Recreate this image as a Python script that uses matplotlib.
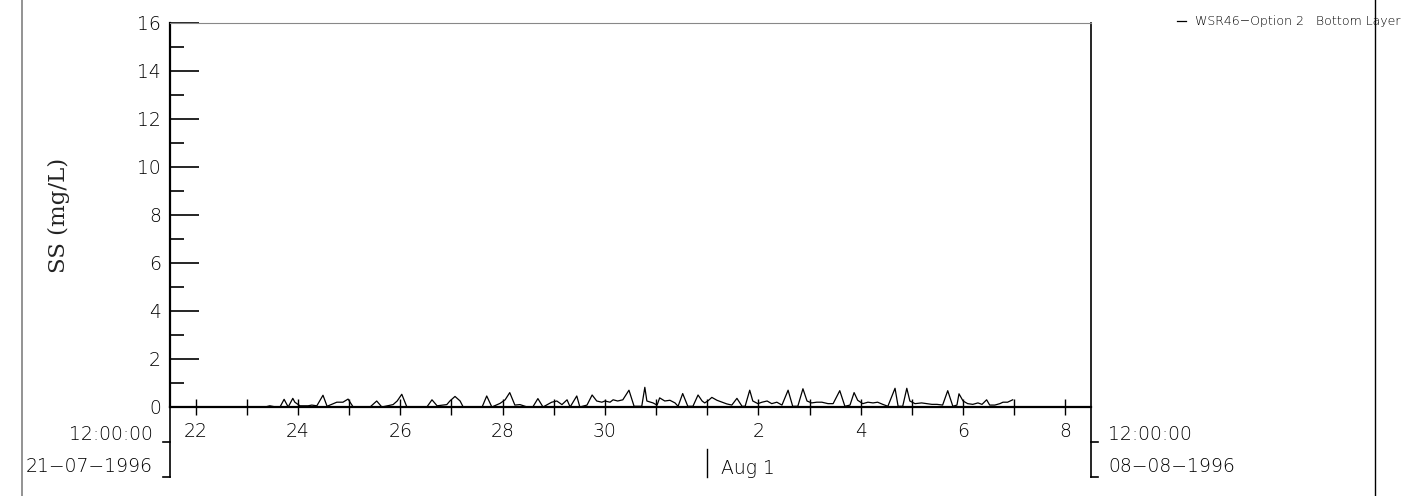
import matplotlib
matplotlib.use("Agg")
import matplotlib.pyplot as plt
import matplotlib.dates as mdates
import matplotlib.transforms as mtransforms
from matplotlib.lines import Line2D
from matplotlib.ticker import FixedLocator, FixedFormatter, MultipleLocator
from datetime import datetime, timedelta

plt.rcParams["font.family"] = ["DejaVu Sans"]
plt.rcParams["font.weight"] = "light"

# ---------------- data ----------------
start = datetime(1996, 7, 21, 12)
end = datetime(1996, 8, 8, 12)

# time offsets (days since 21-07-1996 12:00) and suspended solids (mg/L)
t_days = [1.86, 1.95, 2.07, 2.15, 2.23, 2.31, 2.40, 2.44, 2.54, 2.70, 2.77, 2.87,
          2.99, 3.07, 3.26, 3.38, 3.48, 3.58, 3.91, 4.04, 4.14, 4.36, 4.44, 4.53,
          4.63, 5.02, 5.12, 5.22, 5.41, 5.47, 5.57, 5.67, 5.73, 6.10, 6.19, 6.29,
          6.45, 6.55, 6.64, 6.74, 6.84, 6.98, 7.09, 7.19, 7.29, 7.46, 7.56, 7.66,
          7.76, 7.82, 7.95, 8.01, 8.15, 8.25, 8.34, 8.44, 8.50, 8.60, 8.66, 8.75,
          8.85, 8.97, 9.07, 9.22, 9.28, 9.32, 9.44, 9.52, 9.57, 9.67, 9.77, 9.87,
          9.93, 10.02, 10.12, 10.22, 10.32, 10.40, 10.45, 10.51, 10.59, 10.69,
          10.79, 10.88, 10.98, 11.08, 11.18, 11.24, 11.33, 11.39, 11.49, 11.57,
          11.67, 11.76, 11.86, 11.96, 12.08, 12.17, 12.27, 12.37, 12.45, 12.54,
          12.64, 12.74, 12.86, 12.96, 13.09, 13.19, 13.29, 13.37, 13.44, 13.54,
          13.64, 13.74, 13.83, 13.93, 14.03, 14.17, 14.23, 14.32, 14.40, 14.46,
          14.56, 14.69, 14.79, 14.89, 14.99, 15.10, 15.20, 15.30, 15.38, 15.42,
          15.50, 15.59, 15.69, 15.79, 15.87, 15.96, 16.02, 16.12, 16.22, 16.28,
          16.37, 16.47]
ss = [0.00, 0.05, 0.00, 0.00, 0.32, 0.00, 0.36, 0.20, 0.05, 0.05, 0.08, 0.05,
      0.49, 0.03, 0.20, 0.20, 0.33, 0.00, 0.00, 0.25, 0.00, 0.10, 0.25, 0.53,
      0.00, 0.00, 0.30, 0.05, 0.10, 0.25, 0.44, 0.25, 0.00, 0.00, 0.46, 0.00,
      0.15, 0.30, 0.60, 0.08, 0.10, 0.00, 0.00, 0.35, 0.00, 0.20, 0.25, 0.10,
      0.30, 0.00, 0.46, 0.00, 0.08, 0.50, 0.25, 0.20, 0.25, 0.20, 0.30, 0.25,
      0.30, 0.70, 0.03, 0.03, 0.82, 0.25, 0.17, 0.08, 0.38, 0.25, 0.28, 0.17,
      0.03, 0.56, 0.03, 0.03, 0.50, 0.25, 0.17, 0.25, 0.40, 0.28, 0.20, 0.13,
      0.08, 0.36, 0.03, 0.03, 0.70, 0.25, 0.14, 0.20, 0.25, 0.14, 0.20, 0.08,
      0.70, 0.03, 0.03, 0.76, 0.25, 0.17, 0.20, 0.20, 0.14, 0.14, 0.68, 0.03,
      0.08, 0.60, 0.28, 0.14, 0.20, 0.17, 0.20, 0.11, 0.03, 0.78, 0.03, 0.03,
      0.78, 0.25, 0.14, 0.17, 0.14, 0.11, 0.11, 0.08, 0.68, 0.03, 0.08, 0.55,
      0.25, 0.14, 0.11, 0.17, 0.11, 0.30, 0.08, 0.08, 0.14, 0.20, 0.20, 0.30]

series_label = "WSR46\u2212Option 2   Bottom Layer"
y_label = "SS (mg/L)"
y_min, y_max = 0, 16
y_major_step, y_minor_step = 2, 1
labelled_days = ["22", "24", "26", "28", "30", "2", "4", "6", "8"]
labelled_dates = [datetime(1996, 7, 22), datetime(1996, 7, 24), datetime(1996, 7, 26),
                  datetime(1996, 7, 28), datetime(1996, 7, 30), datetime(1996, 8, 2),
                  datetime(1996, 8, 4), datetime(1996, 8, 6), datetime(1996, 8, 8)]
month_mark = datetime(1996, 8, 1)
month_label = "Aug 1"
start_time_label, start_date_label = "12:00:00", "21\u221207\u22121996"
end_time_label, end_date_label = "12:00:00", "08\u221208\u22121996"

# ---------------- figure ----------------
W, H = 1413, 496
fig = plt.figure(figsize=(W / 100, H / 100), dpi=100)
fig.patch.set_facecolor("white")

def fx(px):
    return px / W

def fy(py):
    return 1 - py / H

FS = 13.5
L, R, T, B = 170, 1091, 23, 407
ax = fig.add_axes([fx(L), fy(B), fx(R) - fx(L), fy(T) - fy(B)])

times = [mdates.date2num(start + timedelta(days=d)) for d in t_days]
ax.plot(times, ss, color="black", lw=0.9)

ax.set_xlim(mdates.date2num(start), mdates.date2num(end))
ax.set_ylim(y_min, y_max)

# y axis
ax.yaxis.set_major_locator(MultipleLocator(y_major_step))
ax.yaxis.set_minor_locator(MultipleLocator(y_minor_step))
ax.tick_params(axis="y", which="major", direction="in", length=21, width=1.2,
               labelsize=FS, pad=6.5, right=False)
ax.tick_params(axis="y", which="minor", direction="in", length=10, width=1.2,
               right=False)
ax.set_ylabel(y_label, family="DejaVu Serif", fontsize=16.5, fontweight="normal",
              color="#222222")
ax.yaxis.set_label_coords(-(L - 59) / (R - L), 0.5)
ax.yaxis.label.set_va("center")

# x axis: a tick at every midnight, labels on even days
day = datetime(1996, 7, 22)
tick_dates = []
while day <= datetime(1996, 8, 8):
    tick_dates.append(day)
    day += timedelta(days=1)
ax.xaxis.set_major_locator(FixedLocator([mdates.date2num(d) for d in tick_dates]))
lab_nums = {round(mdates.date2num(d), 3): s for d, s in zip(labelled_dates, labelled_days)}
ax.xaxis.set_major_formatter(
    FixedFormatter([lab_nums.get(round(mdates.date2num(d), 3), "") for d in tick_dates]))
ax.tick_params(axis="x", which="major", direction="inout", length=11, width=1.0,
               labelsize=FS, pad=5.5, top=False)
ax.xaxis.set_minor_locator(FixedLocator([]))

# spines
for s in ["left", "bottom", "right"]:
    ax.spines[s].set_color("black")
ax.spines["left"].set_linewidth(1.6)
ax.spines["bottom"].set_linewidth(1.6)
ax.spines["right"].set_linewidth(1.2)
ax.spines["top"].set_linewidth(0.8)
ax.spines["top"].set_color("#888888")

# extensions of the side axes below the plot, with hooks
lines = [
    ((fx(L), fx(L)), (fy(B), fy(477))),
    ((fx(L - 7), fx(L)), (fy(442), fy(442))),
    ((fx(L - 7), fx(L)), (fy(477), fy(477))),
    ((fx(R), fx(R)), (fy(B), fy(477))),
    ((fx(R), fx(R + 7)), (fy(442), fy(442))),
    ((fx(R), fx(R + 7)), (fy(477), fy(477))),
]
for xs, ys in lines:
    fig.add_artist(Line2D(xs, ys, transform=fig.transFigure, color="black", lw=1.2))

fig.text(fx(153), fy(434), start_time_label, ha="right", va="center", fontsize=FS)
fig.text(fx(153), fy(466), start_date_label, ha="right", va="center", fontsize=FS)
fig.text(fx(1108), fy(434), end_time_label, ha="left", va="center", fontsize=FS)
fig.text(fx(1108), fy(466), end_date_label, ha="left", va="center", fontsize=FS)

# month marker
blend = mtransforms.blended_transform_factory(ax.transData, fig.transFigure)
mx = mdates.date2num(month_mark)
fig.add_artist(Line2D([mx, mx], [fy(449), fy(477)], transform=blend, color="black", lw=1.0))
ax.annotate(month_label, xy=(mx, fy(468)), xycoords=blend, xytext=(10, 0),
            textcoords="offset points", ha="left", va="center", fontsize=FS,
            annotation_clip=False)

# outer frame lines
fig.add_artist(Line2D([fx(22), fx(22)], [0, 1], transform=fig.transFigure,
                      color="#808080", lw=1.2))
fig.add_artist(Line2D([fx(1375), fx(1375)], [0, 1], transform=fig.transFigure,
                      color="black", lw=1.0))

# legend
fig.add_artist(Line2D([fx(1177), fx(1186)], [fy(21), fy(21)], transform=fig.transFigure,
                      color="black", lw=0.9))
fig.text(fx(1195), fy(21), series_label, ha="left", va="center", fontsize=9)

fig.savefig("out.png", dpi=100, facecolor="white")
